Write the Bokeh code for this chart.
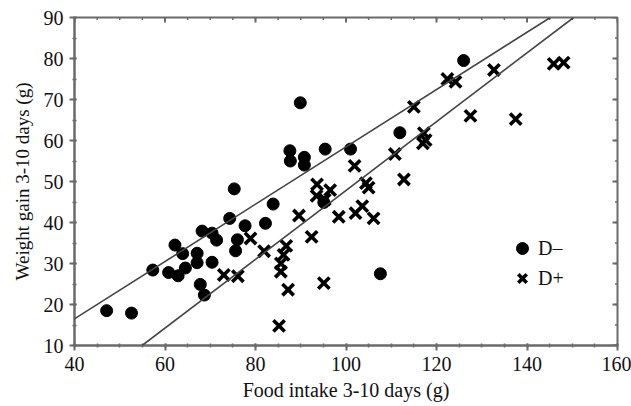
import numpy as np
from bokeh.plotting import figure
from bokeh.models import (Range1d, SingleIntervalTicker, Legend, LegendItem, Slope)
from bokeh.embed import file_html
from bokeh.resources import INLINE

# D- group (circles)
dminus_food = [47.1, 52.6, 57.3, 60.8, 62.2, 62.9, 63.9, 64.5, 67.1, 67.1, 67.8, 68.7,
               68.2, 70.4, 71.4, 70.4, 74.3, 75.3, 77.7, 76.0, 75.6, 82.2, 83.9, 87.6,
               87.7, 90.8, 90.8, 89.9, 95.4, 101.0, 95.1, 111.9, 126.0, 107.6]
dminus_gain = [18.5, 17.9, 28.4, 27.8, 34.5, 27.0, 32.4, 28.9, 32.5, 30.2, 24.9, 22.3,
               37.9, 37.4, 35.7, 30.3, 41.0, 48.2, 39.2, 35.8, 33.1, 39.8, 44.5, 57.5,
               55.0, 55.9, 54.0, 69.2, 57.9, 57.9, 44.9, 61.9, 79.5, 27.5]

# D+ group (crosses)
dplus_food = [73.0, 76.1, 78.9, 81.9, 85.2, 85.6, 85.6, 86.2, 86.8, 87.2, 89.6, 92.4,
              93.6, 96.5, 93.5, 95.3, 95.1, 98.4, 101.9, 102.1, 103.6, 104.4, 105.0, 106.1,
              110.8, 112.8, 115.0, 117.2, 117.6, 117.0, 122.4, 124.2, 127.5, 132.7, 137.5,
              145.9, 148.1]
dplus_gain = [27.2, 26.9, 36.1, 33.0, 14.8, 28.0, 30.0, 32.1, 34.3, 23.6, 41.7, 36.5,
              49.3, 47.9, 46.5, 45.6, 25.2, 41.4, 53.8, 42.3, 44.0, 49.6, 48.5, 41.0,
              56.7, 50.5, 68.2, 61.8, 60.1, 59.3, 75.0, 74.3, 66.0, 77.2, 65.2,
              78.7, 79.0]

# regression lines (gradient, intercept)
line_gradients = [0.699, 0.839]
line_intercepts = [-11.46, -36.1]

x_ticks = [40, 60, 80, 100, 120, 140, 160]
y_ticks = [10, 20, 30, 40, 50, 60, 70, 80, 90]

legend_labels = ["D\u2013", "D+"]
x_title = "Food intake 3-10 days (g)"
y_title = "Weight gain 3-10 days (g)"

FONT = "Liberation Serif"
AX = "#6a6a6a"

p = figure(width=631, height=406, output_backend="svg", toolbar_location=None,
           x_range=Range1d(x_ticks[0], x_ticks[-1]), y_range=Range1d(y_ticks[0], y_ticks[-1]),
           min_border_left=74, min_border_right=14, min_border_top=17, min_border_bottom=61,
           x_axis_label=x_title, y_axis_label=y_title)
p.grid.visible = False
p.outline_line_color = AX
p.outline_line_width = 2
p.background_fill_color = "white"
p.border_fill_color = "white"

for g, b in zip(line_gradients, line_intercepts):
    p.add_layout(Slope(gradient=g, y_intercept=b, line_color="#444444", line_width=1.6))

# tick marks on the top and right frame edges
x_minor = np.arange(x_ticks[0], x_ticks[-1] + 0.1, 5)
y_minor = np.arange(y_ticks[0], y_ticks[-1] + 0.1, 5)
p.scatter(x_ticks, [y_ticks[-1]] * len(x_ticks), marker="dash", angle=np.pi / 2,
          size=10, line_color=AX, line_width=2)
p.scatter(x_minor, [y_ticks[-1]] * len(x_minor), marker="dash", angle=np.pi / 2,
          size=5, line_color=AX, line_width=1.5)
p.scatter([x_ticks[-1]] * len(y_ticks), y_ticks, marker="dash",
          size=10, line_color=AX, line_width=2)
p.scatter([x_ticks[-1]] * len(y_minor), y_minor, marker="dash",
          size=5, line_color=AX, line_width=1.5)

r1 = p.scatter(dminus_food, dminus_gain, marker="circle", size=12,
               fill_color="black", line_color="black")
r2 = p.scatter(dplus_food, dplus_gain, marker="x", size=16,
               line_color="black", line_width=3.6)

def style(ax, interval, minor):
    ax.ticker = SingleIntervalTicker(interval=interval, num_minor_ticks=minor)
    ax.axis_line_color = AX
    ax.axis_line_width = 2
    ax.major_tick_line_color = AX
    ax.minor_tick_line_color = AX
    ax.major_tick_line_width = 2
    ax.minor_tick_line_width = 1.5
    ax.major_tick_out = 5
    ax.major_tick_in = 2
    ax.minor_tick_out = 2
    ax.minor_tick_in = 2
    ax.major_label_text_font = FONT
    ax.major_label_text_font_size = "20px"
    ax.major_label_text_color = "#111111"
    ax.axis_label_text_font = FONT
    ax.axis_label_text_font_style = "normal"
    ax.axis_label_text_color = "#111111"

style(p.xaxis[0], 20, 4)
style(p.yaxis[0], 10, 2)
p.xaxis[0].major_label_standoff = 6
p.xaxis[0].axis_label_text_font_size = "20px"
p.xaxis[0].axis_label_standoff = 5
p.yaxis[0].major_label_standoff = 6
p.yaxis[0].axis_label_text_font_size = "19px"
p.yaxis[0].axis_label_standoff = 8

legend = Legend(items=[LegendItem(label=legend_labels[0], renderers=[r1]),
                       LegendItem(label=legend_labels[1], renderers=[r2])],
                location=(433, 52), glyph_width=30, glyph_height=30, spacing=-2,
                label_height=30,
                padding=0, margin=0, label_standoff=1,
                label_text_font=FONT, label_text_font_size="20px",
                label_text_color="#111111",
                border_line_color=None, background_fill_alpha=0)
p.add_layout(legend)

open("out.html", "w").write(file_html(p, INLINE))
